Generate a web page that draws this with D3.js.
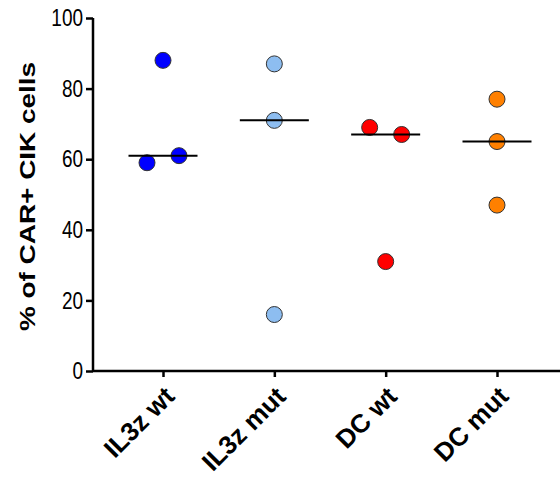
<!DOCTYPE html>
<html>
<head>
<meta charset="utf-8">
<script src="https://cdn.jsdelivr.net/npm/d3@7"></script>
<style>
  body { margin: 0; background: #fff; }
  svg { display: block; font-family: "Liberation Sans", Arial, sans-serif; }
</style>
</head>
<body>
<svg id="chart"></svg>
<script>
const groups = ["IL3z wt", "IL3z mut", "DC wt", "DC mut"]
const colors = ["#0000ff", "#8dbdf0", "#ff0000", "#ff8000"]
const values = [
    [88, 59, 61],
    [87, 71, 16],
    [69, 67, 31],
    [77, 65, 47]
]
const medians = groups.map((g, i) => d3.median(values[i]))
const yTicks = [0, 20, 40, 60, 80, 100]

const width = 560, height = 479
const margin = {top: 18, left: 93, bottom: 108}
const r = 8
const stretch = 1.27   // the original text is drawn taller than wide

const svg = d3.select("svg#chart")
    .attr("width", width)
    .attr("height", height)

const x = d3.scalePoint()
    .domain(groups)
    .range([163, 497])

const y = d3.scaleLinear()
    .domain([0, 100])
    .range([height - margin.bottom, margin.top])

// spread points that would overlap, GraphPad style
function dodge(vals) {
    const offs = vals.map(() => 0)
    const used = new Set()
    vals.forEach((v, i) => {
        if (used.has(i)) return
        const cluster = [i]
        vals.forEach((w, j) => {
            if (j > i && !used.has(j) && Math.abs(y(v) - y(w)) < 2 * r) cluster.push(j)
        })
        cluster.forEach((j, k) => {
            used.add(j)
            offs[j] = (k - (cluster.length - 1) / 2) * 4 * r
        })
    })
    return offs
}

const points = groups.flatMap((g, i) => {
    const offs = dodge(values[i])
    return values[i].map((v, k) => ({group: g, value: v, color: colors[i], dx: offs[k]}))
})

// y axis
svg.append("g")
    .attr("transform", `translate(${margin.left},0)`)
    .call(d3.axisLeft(y).tickValues(yTicks).tickSize(7).tickPadding(3))
    .call(g => g.select(".domain").attr("stroke-width", 2.5).attr("d", `M0,${y(100)}V${y(0)}`))
    .call(g => g.selectAll(".tick line").attr("stroke-width", 2.5))
    .call(g => g.selectAll(".tick text").attr("font-size", 19).attr("fill", "#000")
        .attr("dy", null)
        .attr("transform", `translate(0,${0.32 * 19 * stretch}) scale(1,${stretch})`)
        .attr("font-family", "Liberation Sans, Arial, sans-serif"))

// x axis
svg.append("g")
    .attr("transform", `translate(0,${y(0)})`)
    .call(d3.axisBottom(x).tickSize(6).tickFormat(""))
    .call(g => g.select(".domain").attr("stroke-width", 2.5).attr("d", `M${margin.left},0H${width}`))
    .call(g => g.selectAll(".tick line").attr("stroke-width", 2.5))

svg.append("g")
    .selectAll("text")
    .data(groups)
    .join("text")
    .attr("transform", d => `translate(${x(d) + 13},${y(0) + 27}) rotate(-45)`)
    .attr("text-anchor", "end")
    .attr("font-size", 26)
    .attr("font-weight", "bold")
    .text(d => d)

// y label
svg.append("text")
    .attr("transform", `translate(35,${(y(0) + y(100)) / 2 + 2}) scale(1,${stretch}) rotate(-90)`)
    .attr("text-anchor", "middle")
    .attr("font-size", 22)
    .attr("font-weight", "bold")
    .text("% of CAR+ CIK cells")

// points
svg.append("g")
    .selectAll("circle")
    .data(points)
    .join("circle")
    .attr("cx", d => x(d.group) + d.dx)
    .attr("cy", d => y(d.value))
    .attr("r", r)
    .attr("fill", d => d.color)
    .attr("stroke", "#333")
    .attr("stroke-width", 1)

// median lines
svg.append("g")
    .selectAll("line")
    .data(groups)
    .join("line")
    .attr("x1", d => x(d) - 34.5)
    .attr("x2", d => x(d) + 34.5)
    .attr("y1", (d, i) => y(medians[i]))
    .attr("y2", (d, i) => y(medians[i]))
    .attr("stroke", "#000")
    .attr("stroke-width", 2)
</script>
</body>
</html>
